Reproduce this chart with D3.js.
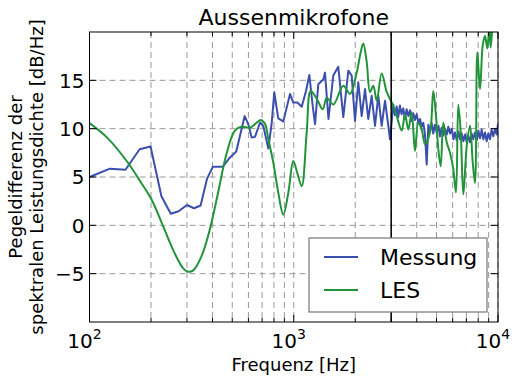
<!DOCTYPE html>
<html>
<head>
<meta charset="utf-8">
<script src="https://cdn.jsdelivr.net/npm/d3@7"></script>
<style>
  body { margin: 0; background: #fff; }
  svg text { font-family: "DejaVu Sans", sans-serif; fill: #000; }
</style>
</head>
<body>
<svg id="chart" width="518" height="376"></svg>
<script>
// Messung (blue) - frequency [Hz] / level difference [dB/Hz]
const messFreq = [100, 126, 150, 176, 199, 225, 250, 273, 300, 325, 350, 376, 402, 450, 486, 523, 575, 599, 622, 646, 684, 709, 751, 780, 803, 840, 889, 959, 995, 1041, 1094, 1148, 1192, 1238, 1271, 1319, 1396, 1422, 1479, 1562, 1652, 1748, 1850, 1921, 1995, 2070, 2151, 2233, 2317, 2407, 2499, 2594, 2695, 2798, 2904, 2960,
  3072, 3130, 3190, 3250, 3310, 3370, 3438, 3500, 3570, 3638, 3710, 3780, 3848, 3920, 4000, 4080, 4151, 4230, 4308, 4390, 4476, 4560, 4646, 4730, 4820, 4910, 5011, 5110, 5200, 5300, 5398, 5500, 5610, 5710, 5821, 5940, 6050, 6157, 6280, 6400, 6520, 6643, 6770, 6900, 7030, 7155, 7290, 7430, 7570, 7717, 7870, 8020, 8170, 8322, 8480, 8640, 8800, 8964, 9130, 9300, 9485, 9670, 9850, 10000];
const messVal = [5.0, 5.86, 5.75, 7.87, 8.15, 3.0, 1.2, 1.46, 2.1, 1.77, 2.05, 4.8, 6.07, 6.07, 7.0, 7.63, 11.3, 10.47, 9.08, 9.15, 10.64, 10.3, 7.94, 10.6, 13.76, 11.06, 10.75, 13.6, 12.7, 12.7, 12.27, 13.9, 15.56, 12.37, 10.47, 14.6, 15.1, 15.8, 11.0, 15.5, 16.4, 11.2, 16.0, 15.5, 10.8, 14.8, 11.3, 14.1, 11.0, 13.4, 10.3, 13.4, 10.3, 12.9, 10.3, 8.9,
  12.5, 11.4, 12.3, 11.2, 12.4, 11.5, 12.1, 11.0, 12.0, 11.3, 11.9, 10.8, 11.6, 10.9, 11.5, 10.5, 11.0, 10.2, 10.6, 9.4, 6.3, 10.4, 9.8, 10.6, 9.5, 10.4, 9.6, 10.3, 9.2, 10.1, 9.3, 10.0, 9.4, 10.2, 9.5, 10.0, 8.9, 9.6, 8.8, 9.7, 8.9, 9.5, 8.7, 9.4, 8.6, 9.3, 8.6, 9.5, 8.9, 9.6, 8.8, 9.8, 9.0, 9.9, 8.9, 9.6, 8.7, 9.5, 8.9, 9.9, 9.2, 10.0, 9.4, 10.5];

// LES (green)
const lesFreq = [100, 123, 154, 179, 201, 233, 261, 287, 301, 321, 353, 388, 426, 468, 514, 554, 611, 646, 689, 723, 751, 794, 840, 889, 941, 995, 1041, 1094, 1157, 1211, 1296, 1387, 1450, 1562, 1748, 1886, 2033, 2127, 2190, 2276, 2363, 2452, 2547, 2695, 2852, 3018, 3192, 3377, 3505, 3638, 3780, 3924, 4072, 4231, 4392, 4646, 4822, 4971, 5102, 5242, 5398, 5609, 5821, 6041, 6228, 6391, 6569, 6766, 7030, 7297, 7522, 7718, 7920, 8165, 8417, 8638, 8864, 9066, 9209, 9485, 9723];
const lesVal = [10.57, 9.0, 6.5, 4.4, 2.7, -0.45, -2.87, -4.43, -4.78, -4.68, -3.22, -0.45, 3.37, 7.35, 9.77, 10.2, 10.1, 10.47, 10.9, 10.5, 8.9, 6.5, 3.37, 1.1, 3.4, 6.65, 5.4, 4.05, 9.6, 13.9, 13.1, 12.0, 13.2, 12.5, 14.45, 13.6, 15.8, 17.9, 18.8, 16.9, 13.8, 14.45, 12.9, 15.7, 13.8, 12.7, 11.3, 9.8, 11.5, 9.9, 11.7, 7.7, 10.6, 9.9, 8.4, 9.6, 13.9, 11.3, 7.9, 6.1, 10.6, 8.6, 7.5, 5.8, 3.4, 12.5, 9.6, 3.2, 8.2, 10.3, 6.5, 4.4, 17.9, 14.1, 18.6, 19.6, 18.3, 20.5, 18.4, 22, 24];

const yTicks = [-5, 0, 5, 10, 15];
const xMajor = [100, 1000, 10000];
const xExp = ["2", "3", "4"];
const markFreq = 3000;
const seriesNames = ["Messung", "LES"];
const seriesColors = ["#3b4fae", "#21943a"];

const W = 518, H = 376;
const m = { left: 89.5, right: 498, top: 32, bottom: 322 };
const svg = d3.select('#chart');

const x = d3.scaleLog().domain([100, 10000]).range([m.left, m.right]);
const y = d3.scaleLinear().domain([-10, 20]).range([m.bottom, m.top]);

// minor decade ticks
const xMinor = [];
[100, 1000].forEach(d => { for (let k = 2; k <= 9; k++) xMinor.push(d * k); });

// grid
const grid = svg.append('g').attr('stroke', '#999').attr('stroke-dasharray', '6,4').attr('stroke-width', 1);
xMajor.concat(xMinor).forEach(f => {
  grid.append('line').attr('x1', x(f)).attr('x2', x(f)).attr('y1', m.top).attr('y2', m.bottom);
});
yTicks.forEach(v => {
  grid.append('line').attr('x1', m.left).attr('x2', m.right).attr('y1', y(v)).attr('y2', y(v));
});

// clip
svg.append('clipPath').attr('id', 'clip').append('rect')
  .attr('x', m.left).attr('y', m.top).attr('width', m.right - m.left).attr('height', m.bottom - m.top);

const line = d3.line().x(d => x(d[0])).y(d => y(d[1]));
const smooth = d3.line().x(d => x(d[0])).y(d => y(d[1])).curve(d3.curveCatmullRom.alpha(0.5));
const plot = svg.append('g').attr('clip-path', 'url(#clip)');

plot.append('path')
  .datum(messFreq.map((f, i) => [f, messVal[i]]))
  .attr('d', line).attr('fill', 'none').attr('stroke', seriesColors[0]).attr('stroke-width', 2).attr('stroke-linejoin', 'round');
plot.append('path')
  .datum(lesFreq.map((f, i) => [f, lesVal[i]]))
  .attr('d', smooth).attr('fill', 'none').attr('stroke', seriesColors[1]).attr('stroke-width', 2).attr('stroke-linejoin', 'round');

// vertical marker
plot.append('line').attr('x1', x(markFreq)).attr('x2', x(markFreq)).attr('y1', m.top).attr('y2', m.bottom)
  .attr('stroke', '#000').attr('stroke-width', 1.5);

// ticks (inside, all four sides)
const ticks = svg.append('g').attr('stroke', '#000').attr('stroke-width', 1);
xMajor.forEach(f => {
  ticks.append('line').attr('x1', x(f)).attr('x2', x(f)).attr('y1', m.bottom).attr('y2', m.bottom - 7);
  ticks.append('line').attr('x1', x(f)).attr('x2', x(f)).attr('y1', m.top).attr('y2', m.top + 7);
});
xMinor.forEach(f => {
  ticks.append('line').attr('x1', x(f)).attr('x2', x(f)).attr('y1', m.bottom).attr('y2', m.bottom - 4);
  ticks.append('line').attr('x1', x(f)).attr('x2', x(f)).attr('y1', m.top).attr('y2', m.top + 4);
});
yTicks.forEach(v => {
  ticks.append('line').attr('x1', m.left).attr('x2', m.left + 7).attr('y1', y(v)).attr('y2', y(v));
  ticks.append('line').attr('x1', m.right).attr('x2', m.right - 7).attr('y1', y(v)).attr('y2', y(v));
});

// frame
svg.append('rect').attr('x', m.left).attr('y', m.top).attr('width', m.right - m.left).attr('height', m.bottom - m.top)
  .attr('fill', 'none').attr('stroke', '#000').attr('stroke-width', 1);

// y tick labels
svg.append('g').selectAll('text').data(yTicks).join('text')
  .attr('x', m.left - 5).attr('y', d => y(d)).attr('dy', '0.36em')
  .attr('text-anchor', 'end').attr('font-size', 20)
  .text(d => d < 0 ? '\u2212' + Math.abs(d) : d);

// x tick labels 10^n
xMajor.forEach((f, i) => {
  const t = svg.append('text').attr('x', x(f) - 5).attr('y', 348).attr('text-anchor', 'middle').attr('font-size', 20);
  t.append('tspan').text('10');
  t.append('tspan').attr('font-size', 14).attr('dy', -9).text(xExp[i]);
});

// title and axis labels
svg.append('text').attr('x', (m.left + m.right) / 2).attr('y', 25).attr('text-anchor', 'middle')
  .attr('font-size', 22).text('Aussenmikrofone');
svg.append('text').attr('x', (m.left + m.right) / 2).attr('y', 371).attr('text-anchor', 'middle')
  .attr('font-size', 18).text('Frequenz [Hz]');
const yl = svg.append('text').attr('transform', `translate(0,${(m.top + m.bottom) / 2}) rotate(-90)`)
  .attr('text-anchor', 'middle').attr('font-size', 18);
yl.append('tspan').attr('x', 0).attr('y', 22).text('Pegeldifferenz der');
yl.append('tspan').attr('x', 0).attr('y', 43).text('spektralen Leistungsdichte [dB/Hz]');

// legend
const lg = svg.append('g');
lg.append('rect').attr('x', 309).attr('y', 238).attr('width', 178).attr('height', 74)
  .attr('fill', '#fff').attr('stroke', '#777').attr('stroke-width', 1.2);
seriesNames.forEach((name, i) => {
  const yy = 257 + i * 33;
  lg.append('line').attr('x1', 324).attr('x2', 358).attr('y1', yy).attr('y2', yy)
    .attr('stroke', seriesColors[i]).attr('stroke-width', 2);
  lg.append('text').attr('x', 380).attr('y', yy).attr('dy', '0.36em').attr('font-size', 22).text(name);
});
</script>
</body>
</html>
